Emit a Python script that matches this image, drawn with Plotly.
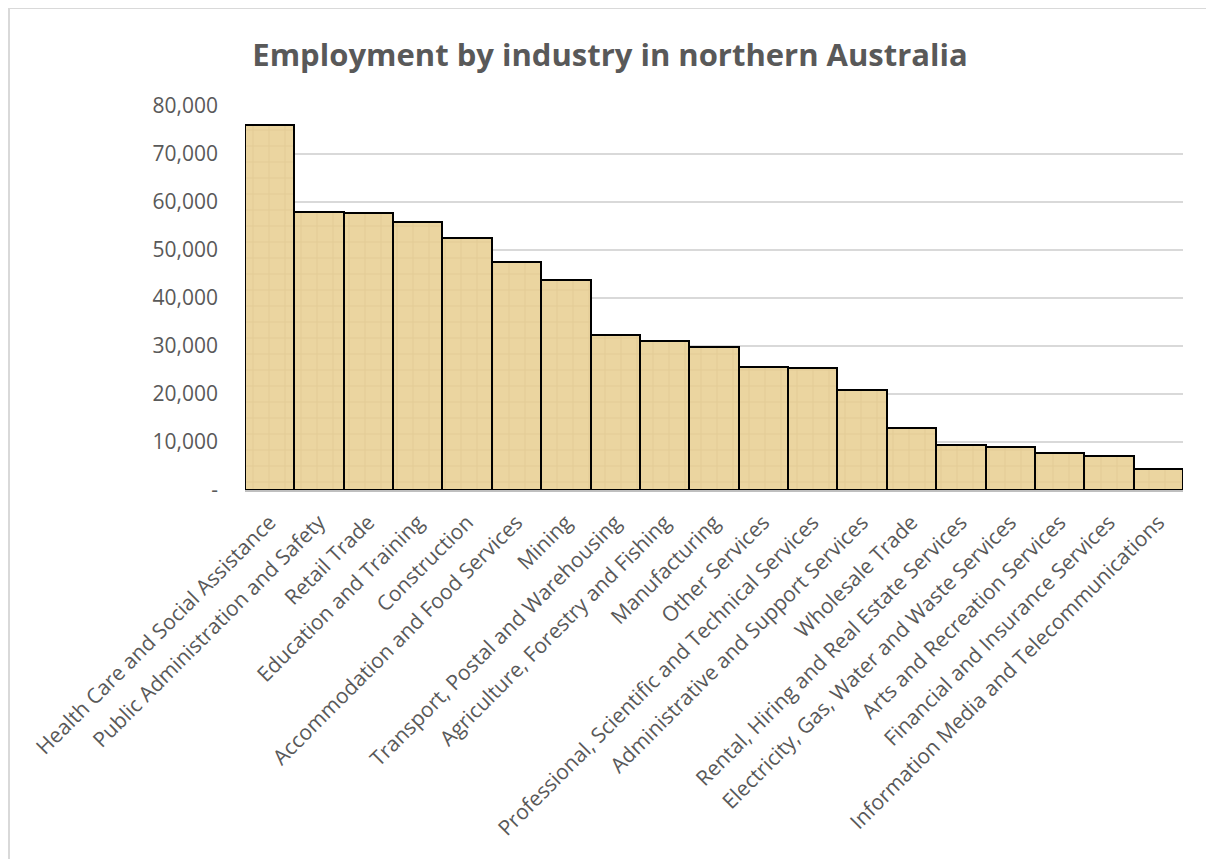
import plotly.graph_objects as go

categories = [
    "Health Care and Social Assistance",
    "Public Administration and Safety",
    "Retail Trade",
    "Education and Training",
    "Construction",
    "Accommodation and Food Services",
    "Mining",
    "Transport, Postal and Warehousing",
    "Agriculture, Forestry and Fishing",
    "Manufacturing",
    "Other Services",
    "Professional, Scientific and Technical Services",
    "Administrative and Support Services",
    "Wholesale Trade",
    "Rental, Hiring and Real Estate Services",
    "Electricity, Gas, Water and Waste Services",
    "Arts and Recreation Services",
    "Financial and Insurance Services",
    "Information Media and Telecommunications",
]
employment = [76000, 57900, 57700, 55900, 52500, 47400, 43800, 32200, 31000,
              29800, 25600, 25400, 20800, 12900, 9450, 8900, 7800, 7100, 4400]

y_tickvals = [0, 10000, 20000, 30000, 40000, 50000, 60000, 70000, 80000]
y_ticktext = ["-", "10,000", "20,000", "30,000", "40,000", "50,000", "60,000", "70,000", "80,000"]

title_text = "Employment by industry in northern Australia"

OFF = 8  # page body margin
W, H = 1214 - 2 * OFF, 859 - OFF
L, R, T, B = 245 - OFF, 1183 - OFF, 106 - OFF, 490 - OFF

fig = go.Figure(go.Bar(
    x=categories,
    y=employment,
    marker=dict(
        color="#EAD39E",
        line=dict(color="#000000", width=2),
        pattern=dict(shape="+", fgcolor="#CDB47C", bgcolor="#EBD5A0",
                     size=16, solidity=0.12, fgopacity=0.3),
    ),
    hoverinfo="x+y",
))

pw, ph = R - L, B - T
def px_x(x):
    return (x - OFF - L) / pw
def px_y(y):
    return (B - (y - OFF)) / ph

fig.add_shape(type="rect", xref="paper", yref="paper",
              x0=px_x(9), x1=px_x(1211), y0=px_y(900), y1=px_y(8),
              line=dict(color="#D9D9D9", width=2), fillcolor="rgba(0,0,0,0)", layer="below")

fig.update_layout(
    width=W, height=H,
    margin=dict(l=L, r=W - R, t=T, b=H - B, pad=0),
    paper_bgcolor="white", plot_bgcolor="white",
    bargap=0,
    showlegend=False,
    title=dict(text=title_text, x=(610 - OFF) / W, xanchor="center", y=1 - (55 - OFF) / H, yanchor="middle",
               font=dict(family="Open Sans", size=31, color="#595959", weight="bold")),
    font=dict(family="Open Sans", color="#595959"),
    xaxis=dict(tickangle=-45, tickfont=dict(size=21, color="#595959"),
               showline=True, linecolor="#BFBFBF", linewidth=1.5,
               ticks="", showgrid=False, ticklabelstandoff=10),
    yaxis=dict(range=[0, 80000], tickvals=y_tickvals, ticktext=y_ticktext,
               tickfont=dict(size=21, color="#595959"),
               showgrid=True, gridcolor="#D9D9D9", gridwidth=1.5,
               zeroline=False, showline=False, ticks="", ticklabelstandoff=26),
)

fig.write_html("out.html")
